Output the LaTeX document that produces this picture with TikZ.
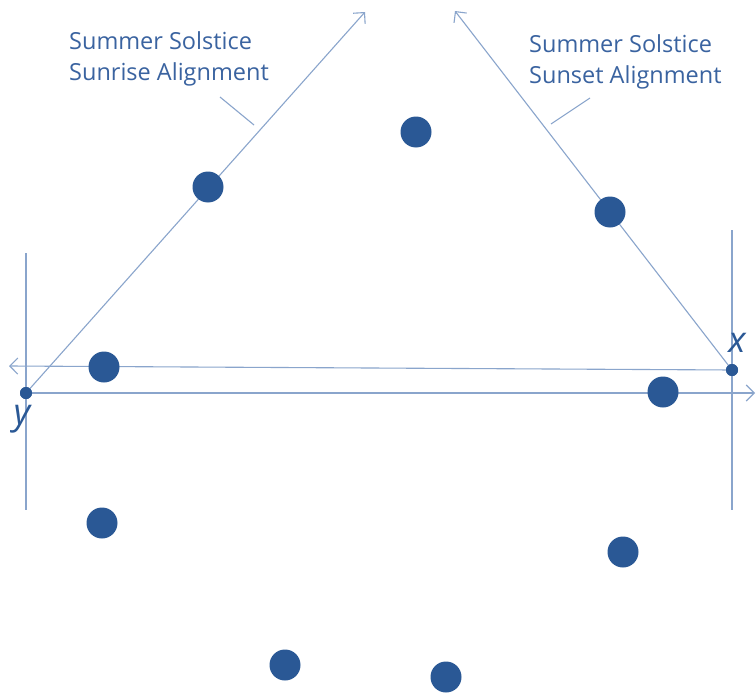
\documentclass[tikz,border=0pt]{standalone}
\usepackage{fontspec}
\setmainfont{Open Sans}
\usetikzlibrary{arrows.meta}
\definecolor{lineblue}{HTML}{8AA5CC}
\definecolor{dotblue}{HTML}{2A5895}
\definecolor{textblue}{HTML}{3A63A0}
\tikzset{
  axis/.style={draw=lineblue, line width=1.1pt},
  ray/.style={draw=lineblue, line width=1.1pt, -{Straight Barb[length=8pt,width=16pt,line width=1.1pt]}},
  bigdot/.style={circle, fill=dotblue, minimum size=31pt, inner sep=0pt},
  smalldot/.style={circle, fill=dotblue, minimum size=12pt, inner sep=0pt},
  lbl/.style={text=textblue, font=\fontsize{23.5}{31}\selectfont, align=left, inner sep=0pt},
  ptlbl/.style={text=dotblue, font=\fontsize{36}{36}\selectfont\itshape, inner sep=0pt},
}
\begin{document}
\begin{tikzpicture}[x=1pt,y=-1pt]
\useasboundingbox[fill=white] (0,0) rectangle (756,696);
% vertical guide lines
\coordinate (yv1) at (26,253);
\coordinate (yv2) at (26,510);
\coordinate (xv1) at (732,230);
\coordinate (xv2) at (732,510);
\draw[axis] (yv1) -- (yv2);
\draw[axis] (xv1) -- (xv2);
% points
\node[smalldot] (y) at (26,393) {};
\node[smalldot] (x) at (732,370) {};
\coordinate (westend) at (9,366);
\coordinate (eastend) at (755,393);
\coordinate (sunrise) at (365,12);
\coordinate (sunset) at (455,11);
\draw[ray] (x.center) -- (westend);
\draw[ray] (y.center) -- (eastend);
\draw[ray] (y.center) -- (sunrise);
\draw[ray] (x.center) -- (sunset);
\node[smalldot] at (y) {};
\node[smalldot] at (x) {};
\node[ptlbl] (ylab) at (22,419) {y};
\node[ptlbl] (xlab) at (737,343) {x};
% labels
\node[lbl, anchor=north west] (risel) at (69,31) {Summer Solstice\\Sunrise Alignment};
\node[lbl, anchor=north west] (setl) at (529,34) {Summer Solstice\\Sunset Alignment};
\coordinate (riseA) at (220,97);
\coordinate (riseB) at (254,125);
\coordinate (setA) at (590,98);
\coordinate (setB) at (551,124);
\draw[axis] (riseA) -- (riseB);
\draw[axis] (setA) -- (setB);
% stones
\node[bigdot] (s1) at (416,132) {};
\node[bigdot] (s2) at (208,187) {};
\node[bigdot] (s3) at (610,212) {};
\node[bigdot] (s4) at (104,367) {};
\node[bigdot] (s5) at (663,392) {};
\node[bigdot] (s6) at (102,523) {};
\node[bigdot] (s7) at (623,552) {};
\node[bigdot] (s8) at (285,665) {};
\node[bigdot] (s9) at (446,677) {};
\end{tikzpicture}
\end{document}
